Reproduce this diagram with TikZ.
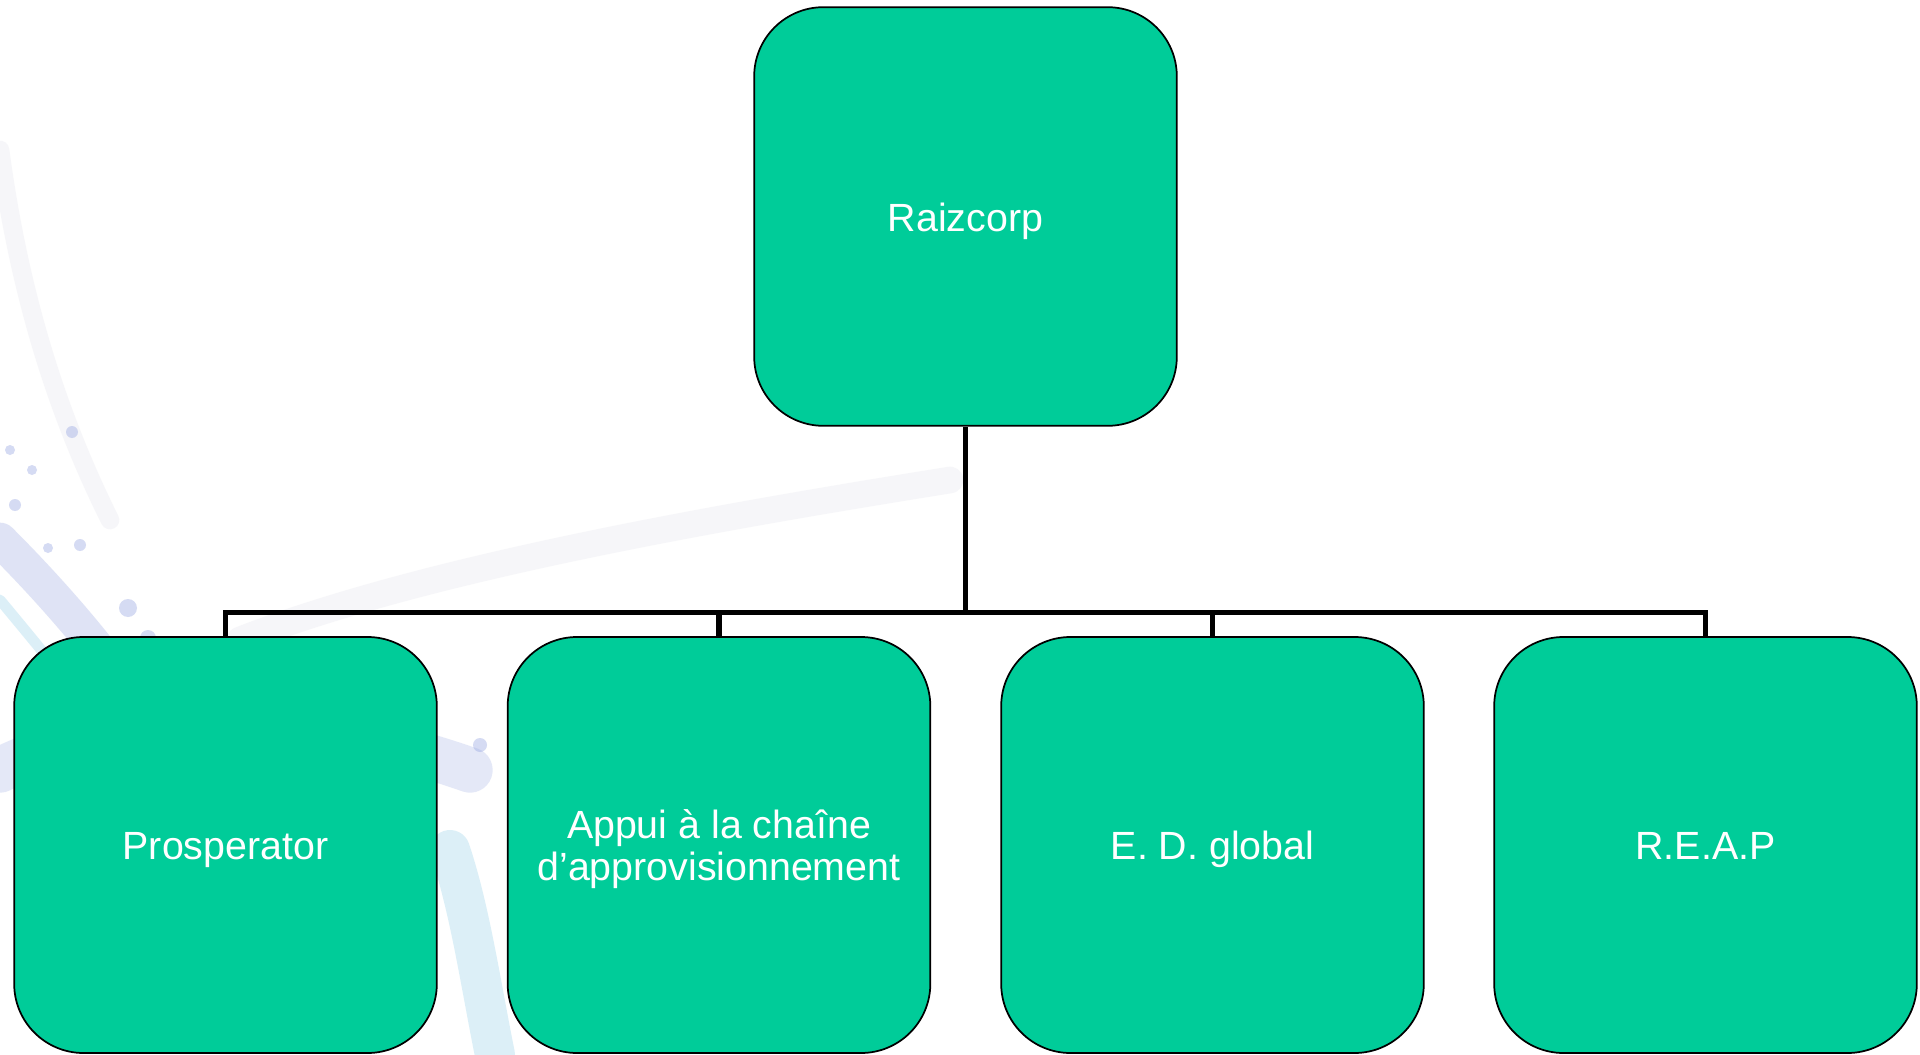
\documentclass[tikz,border=0pt]{standalone}
\usepackage{fontspec}
\setmainfont{Liberation Sans}
\begin{document}
\begin{tikzpicture}[x=0.75pt,y=-0.75pt,
  orgbox/.style={draw=black, line width=1.3pt, fill=boxgreen, rounded corners=52pt,
    minimum width=317pt, inner sep=0pt, text=white, align=center,
    font=\fontsize{29.5}{31.5}\selectfont,
    execute at begin node={\rule[-6.2pt]{0pt}{34.7pt}}},
  conn/.style={draw=black, line width=4.2pt, line join=miter},
  swirl/.style={line cap=round}]
\definecolor{boxgreen}{HTML}{00CC99}
\definecolor{swirlblue}{RGB}{150,165,225}
\definecolor{swirlcyan}{RGB}{140,205,230}
\definecolor{swirlgray}{RGB}{200,200,215}
\fill[white] (0,0) rectangle (1920,1055);
\useasboundingbox (0,0) rectangle (1920,1055);
% faint background decoration
\draw[swirl, swirlgray, line width=14pt, opacity=0.15] (0,150) .. controls (20,300) and (60,420) .. (110,520);
\draw[swirl, swirlblue, line width=26pt, opacity=0.3] (0,540) .. controls (60,600) and (110,660) .. (150,720);
\draw[swirl, swirlcyan, line width=8pt, opacity=0.3] (0,600) .. controls (50,660) and (90,710) .. (130,760);
\draw[swirl, swirlblue, line width=34pt, opacity=0.25] (0,770) .. controls (120,710) and (300,710) .. (470,770);
\draw[swirl, swirlcyan, line width=30pt, opacity=0.3] (450,850) .. controls (470,910) and (480,980) .. (495,1055);
\draw[swirl, swirlgray, line width=20pt, opacity=0.15] (240,640) .. controls (420,570) and (700,520) .. (950,480);
\foreach \bx/\by/\br in {72/432/6, 10/450/5, 32/470/5, 15/505/6, 80/545/6, 48/548/5, 128/608/9, 148/638/8, 210/725/8, 480/745/7}
  \fill[swirlblue, opacity=0.4] (\bx,\by) circle[radius=\br];
% nodes
\node[orgbox, minimum height=314pt] (top) at (965.5,216.5) {Raizcorp};
\node[orgbox, minimum height=312pt] (c1) at (225.5,845) {Prosperator};
\node[orgbox, minimum height=312pt] (c2) at (719,845) {\rule{0pt}{27.5pt}Appui à la chaîne\\d’approvisionnement};
\node[orgbox, minimum height=312pt] (c3) at (1212.5,845) {E. D. global};
\node[orgbox, minimum height=312pt] (c4) at (1705.5,845) {R.E.A.P};
\coordinate (bus) at (965.5,612.5);
% connectors
\draw[conn] (top.south) -- (top.south |- bus);
\draw[conn] (c1.north) -- (c1.north |- bus) -- (c4.north |- bus) -- (c4.north);
\draw[conn] (c2.north) -- (c2.north |- bus);
\draw[conn] (c3.north) -- (c3.north |- bus);
\end{tikzpicture}
\end{document}
